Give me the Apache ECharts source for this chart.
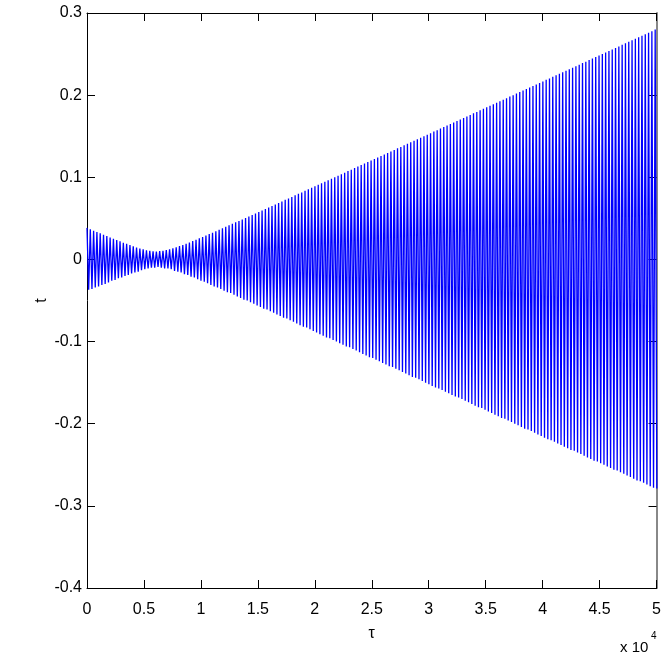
<!DOCTYPE html>
<html><head><meta charset="utf-8">
<script src="https://cdn.jsdelivr.net/npm/echarts@6/dist/echarts.min.js"></script>
<style>html,body{margin:0;padding:0;background:#fff}#c{width:664px;height:664px}</style>
</head><body><div id="c"></div>
<script>
// ---- data ----
const xTickLabels = ['0','0.5','1','1.5','2','2.5','3','3.5','4','4.5','5'];
const yTickLabels = ['-0.4','-0.3','-0.2','-0.1','0','0.1','0.2','0.3'];
const xName = 'τ';
const yName = 't';
const xExponent = 'x 10';
const xExponentPower = '4';
// spacing between visible oscillation peaks (tau units) and lag of each trough after its peak
const tauStep = 290;
const troughLag = 145;
// upper envelope: height of each successive peak
const upperPeaks = [
0.0384,0.0367,0.0350,0.0334,0.0317,0.0300,0.0284,0.0268,0.0251,0.0235,0.0220,0.0204,0.0189,0.0174,0.0160,0.0146,0.0133,0.0122,0.0112,0.0104,0.0098,0.0097,
0.0101,0.0106,0.0114,0.0124,0.0136,0.0148,0.0162,0.0176,0.0191,0.0207,0.0223,0.0240,0.0257,0.0274,0.0291,0.0308,0.0326,0.0343,0.0361,0.0379,0.0397,0.0415,0.0433,0.0451,0.0469,0.0487,0.0505,
0.0523,0.0542,0.0560,0.0578,0.0596,0.0615,0.0633,0.0651,0.0669,0.0688,0.0706,0.0725,0.0743,0.0761,0.0780,0.0798,0.0816,0.0835,0.0853,0.0872,0.0890,0.0909,0.0927,0.0945,0.0964,0.0982,0.1001,0.1019,0.1038,0.1056,0.1075,0.1093,0.1112,0.1130,0.1148,0.1167,0.1185,0.1204,0.1222,0.1241,0.1259,0.1278,0.1296,0.1315,0.1333,0.1352,0.1370,0.1389,0.1407,0.1426,0.1444,0.1463,
0.1481,0.1500,0.1518,0.1537,0.1556,0.1574,0.1593,0.1611,0.1630,0.1648,
0.1667,0.1685,0.1704,0.1722,0.1741,0.1759,0.1778,0.1796,0.1815,0.1833,
0.1852,0.1870,0.1889,0.1908,0.1926,0.1945,0.1963,0.1982,0.2000,0.2019,
0.2037,0.2056,0.2074,0.2093,0.2111,0.2130,0.2149,0.2167,0.2186,0.2204,
0.2223,0.2241,0.2260,0.2278,0.2297,0.2315,0.2334,0.2352,0.2371,0.2390,
0.2408,0.2427,0.2445,0.2464,0.2482,0.2501,0.2519,0.2538,0.2556,0.2575,
0.2593,0.2612,0.2631,0.2649,0.2668,0.2686,0.2705,0.2723,0.2742,0.2760,
0.2779,0.2798];
// lower envelope: depth of each successive trough
const lowerPeaks = [
-0.037,-0.036,-0.034,-0.033,-0.031,-0.030,-0.028,-0.026,-0.025,-0.023,-0.022,-0.020,-0.019,-0.017,-0.016,-0.015,-0.013,-0.012,-0.011,-0.010,-0.010,-0.009,
-0.010,-0.011,-0.011,-0.012,-0.014,-0.015,-0.016,-0.018,-0.019,-0.021,-0.022,-0.024,-0.026,-0.027,-0.029,-0.031,-0.033,-0.034,-0.036,-0.038,-0.040,-0.041,-0.043,-0.045,-0.047,-0.049,-0.050,
-0.052,-0.054,-0.056,-0.058,-0.060,-0.061,-0.063,-0.065,-0.067,-0.069,
-0.071,-0.072,-0.074,-0.076,-0.078,-0.080,-0.082,-0.083,-0.085,-0.087,
-0.089,-0.091,-0.093,-0.095,-0.096,-0.098,-0.100,-0.102,-0.104,-0.106,
-0.107,-0.109,-0.111,-0.113,-0.115,-0.117,-0.119,-0.120,-0.122,-0.124,
-0.126,-0.128,-0.130,-0.131,-0.133,-0.135,-0.137,-0.139,-0.141,-0.143,
-0.144,-0.146,
-0.148,-0.150,-0.152,-0.154,-0.156,-0.157,-0.159,-0.161,-0.163,-0.165,
-0.167,-0.168,-0.170,-0.172,-0.174,-0.176,-0.178,-0.180,-0.181,-0.183,
-0.185,-0.187,-0.189,-0.191,-0.193,-0.194,-0.196,-0.198,-0.200,-0.202,
-0.204,-0.206,-0.207,-0.209,-0.211,-0.213,-0.215,-0.217,-0.219,-0.220,
-0.222,-0.224,-0.226,-0.228,-0.230,-0.232,-0.233,-0.235,-0.237,-0.239,
-0.241,-0.243,-0.245,-0.246,-0.248,-0.250,-0.252,-0.254,-0.256,-0.257,
-0.259,-0.261,-0.263,-0.265,-0.267,-0.269,-0.270,-0.272,-0.274,-0.276,
-0.278,-0.279];

// ---- build series ----
const seriesData = [];
for (let k = 0; k < upperPeaks.length; k++) {
  seriesData.push([k * tauStep, upperPeaks[k]]);
  seriesData.push([k * tauStep + troughLag, lowerPeaks[k]]);
}

const FONT = "'Liberation Sans',Arial,sans-serif";
const X_MIN = 0, X_MAX = 50000, X_INT = 5000;
const Y_MIN = -0.4, Y_MAX = 0.3, Y_INT = 0.1;
const xLabel = v => xTickLabels[Math.round((v - X_MIN) / X_INT)] ?? '';
const yLabel = v => yTickLabels[Math.round((v - Y_MIN) / Y_INT)] ?? '';

const chart = echarts.init(document.getElementById('c'), null, {renderer: 'canvas'});
const axisLine = {show: true, onZero: false, lineStyle: {color: '#000', width: 1}};
const tick = {show: true, inside: true, length: 8, lineStyle: {color: '#000', width: 1}};
chart.setOption({
  animation: false,
  backgroundColor: '#fff',
  grid: {left: 87, right: 4, top: 13, bottom: 76, containLabel: false},
  xAxis: [
    {type: 'value', min: X_MIN, max: X_MAX, interval: X_INT, position: 'bottom',
     axisLine: axisLine, axisTick: tick, splitLine: {show: false},
     axisLabel: {formatter: xLabel, fontFamily: FONT, fontSize: 16, color: '#000', margin: 14},
     name: xName, nameLocation: 'middle', nameGap: 38, nameMoveOverlap: false,
     nameTextStyle: {fontFamily: FONT, fontSize: 16, color: '#000'}},
    {type: 'value', min: X_MIN, max: X_MAX, interval: X_INT, position: 'top',
     axisLine: axisLine, axisTick: tick, splitLine: {show: false}, axisLabel: {show: false}}
  ],
  yAxis: [
    {type: 'value', min: Y_MIN, max: Y_MAX, interval: Y_INT, position: 'left',
     axisLine: axisLine, axisTick: tick, splitLine: {show: false},
     axisLabel: {formatter: yLabel, fontFamily: FONT, fontSize: 16, color: '#000', margin: 5},
     name: yName, nameLocation: 'middle', nameGap: 37, nameRotate: 90, nameMoveOverlap: false,
     nameTextStyle: {fontFamily: FONT, fontSize: 16, color: '#000'}},
    {type: 'value', min: Y_MIN, max: Y_MAX, interval: Y_INT, position: 'right',
     axisLine: {show: true, onZero: false, lineStyle: {color: '#888', width: 2}},
     axisTick: tick, splitLine: {show: false}, axisLabel: {show: false}}
  ],
  series: [{
    type: 'line', xAxisIndex: 0, yAxisIndex: 0, data: seriesData,
    symbol: 'none', showSymbol: false, smooth: false, clip: true,
    lineStyle: {color: '#0000ff', width: 1.3}
  }],
  graphic: [
    {type: 'text', left: 620, top: 640, style: {text: xExponent, font: "15px " + FONT, fill: '#000'}},
    {type: 'text', left: 651, top: 631, style: {text: xExponentPower, font: "10px " + FONT, fill: '#000'}}
  ]
});
</script>
</body></html>
